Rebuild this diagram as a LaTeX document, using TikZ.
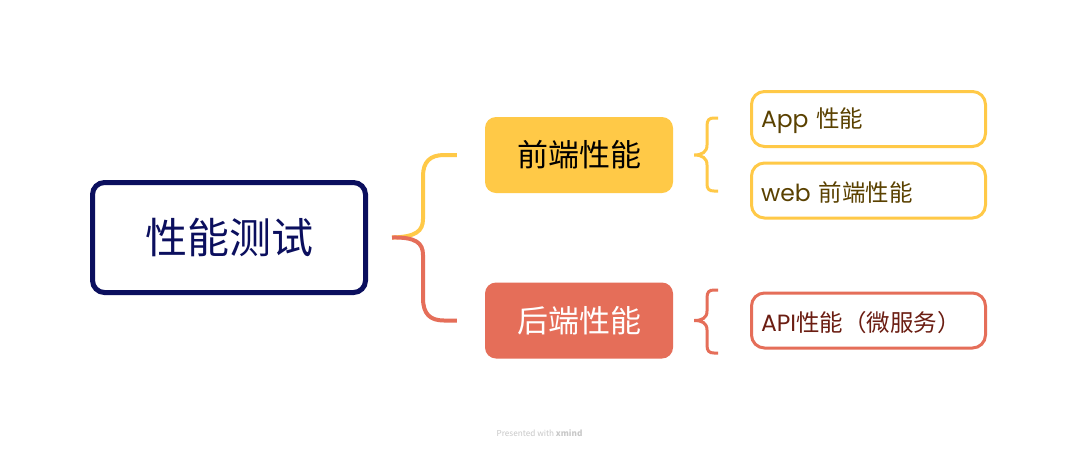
\documentclass[tikz,border=0pt]{standalone}
\usepackage{fontspec}
\setmainfont{Noto Sans CJK SC}
\newfontfamily\cjk{Noto Sans CJK SC}
\newfontfamily\lat{Poppins}
\usetikzlibrary{calc}
\definecolor{navy}{HTML}{0B0F5E}
\definecolor{fey}{HTML}{FFC947}
\definecolor{ber}{HTML}{E56E59}
\definecolor{feytext}{HTML}{5A4100}
\definecolor{bertext}{HTML}{6B1D12}
\definecolor{foot}{HTML}{C8C8C8}
\tikzset{
  rootbox/.style={draw=navy, line width=5pt, rounded corners=12pt, fill=white,
    minimum width=273pt, minimum height=110pt, text=navy, inner sep=0pt,
    font=\cjk\fontsize{42}{50}\selectfont},
  mainbox/.style={rounded corners=11pt, minimum width=188pt, minimum height=76pt,
    inner sep=0pt, font=\cjk\fontsize{31}{37}\selectfont},
  leafbox/.style={line width=3pt, rounded corners=13pt, fill=white,
    minimum width=234pt, minimum height=55pt, text width=215pt, align=left,
    inner xsep=9.5pt, inner ysep=0pt, font=\cjk\fontsize{23.5}{28}\selectfont},
  bigcurve/.style={line width=4pt},
  brace/.style={line width=3pt},
}
\newcommand{\lowr}[1]{\raisebox{-2pt}[\height][\depth]{#1}}
\begin{document}
\begin{tikzpicture}[x=1pt,y=-1pt]
\useasboundingbox[fill=white] (0,0) rectangle (1079,448);
\node[rootbox] (root) at (229,237.5) {性能测试};
\node[mainbox, fill=fey, text=black] (fe) at (579,155) {前端性能};
\node[mainbox, fill=ber, text=white] (be) at (579,320.5) {后端性能};
\node[leafbox, draw=fey, text=feytext] (app) at (868.5,119) {\lowr{{\lat App} 性能}};
\node[leafbox, draw=fey, text=feytext] (web) at (868.5,190.5) {\lowr{{\lat web} 前端性能}};
\node[leafbox, draw=ber, text=bertext] (api) at (868.5,320.5) {\lowr{{\lat API}性能（微服务）}};
% main brackets
\coordinate (split) at ($(root.east)+(24,0)$);
\coordinate (feIn) at ($(fe.west)+(-28,0)$);
\coordinate (beIn) at ($(be.west)+(-28,0)$);
\draw[bigcurve, fey] (split) .. controls (416,237) and (423,231) .. (423,219) -- (423,176)
  .. controls (423,162) and (430,155) .. (444,155) -- (feIn);
\draw[bigcurve, ber] (split) .. controls (416,237) and (423,243) .. (423,255) -- (423,298)
  .. controls (423,314) and (430,320.5) .. (444,320.5) -- (beIn);
% small braces
\coordinate (feTip) at ($(fe.east)+(21,0)$);
\coordinate (beTip) at ($(be.east)+(21,0)$);
\draw[brace, fey] (718,118) -- (714,118) .. controls (709,118) and (707,120) .. (707,126) -- (707,145)
  .. controls (707,152) and (702,155) .. (feTip)
  .. controls (702,155) and (707,158) .. (707,165) -- (707,184)
  .. controls (707,189) and (709,191) .. (714,191) -- (718,191);
\draw[brace, ber] (718,290) -- (714,290) .. controls (709,290) and (707,292) .. (707,298) -- (707,311)
  .. controls (707,318) and (702,320.5) .. (beTip)
  .. controls (702,320.5) and (707,323) .. (707,330) -- (707,345)
  .. controls (707,351) and (709,353) .. (714,353) -- (718,353);
% footer
\node[text=foot, font=\fontsize{8.2}{9}\selectfont] (footer) at (539.5,433) {Presented with \textbf{xmind}};
\end{tikzpicture}
\end{document}
